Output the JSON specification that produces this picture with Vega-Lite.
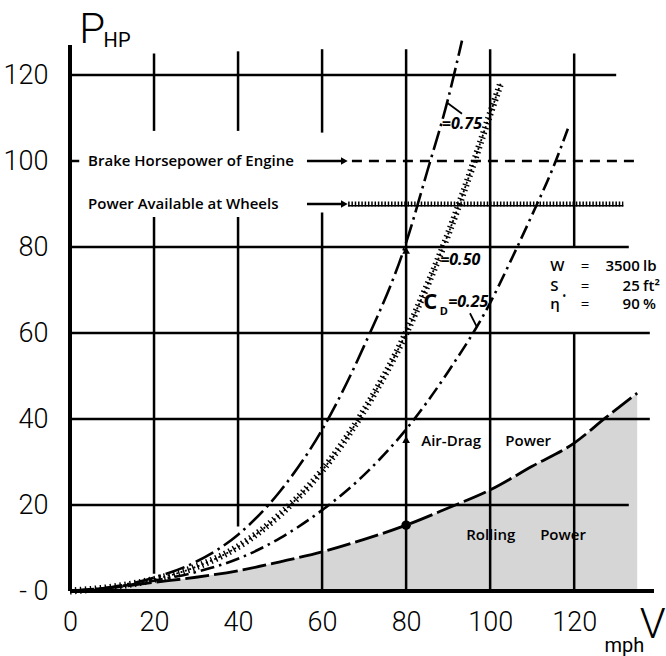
{
  "$schema": "https://vega.github.io/schema/vega-lite/v6.json",
  "autosize": {"type": "none"},
  "padding": {"left": 70, "top": 32, "right": 12, "bottom": 65},
  "width": 584,
  "height": 559,
  "background": "white",
  "config": {"view": {"stroke": null}},
  "datasets": {
    "curves": [
      {"s": "roll", "V": 0, "P": 0}, {"s": "roll", "V": 10, "P": 0.8}, {"s": "roll", "V": 20, "P": 2.0}, {"s": "roll", "V": 30, "P": 3.2},
      {"s": "roll", "V": 40, "P": 4.7}, {"s": "roll", "V": 50, "P": 6.8}, {"s": "roll", "V": 60, "P": 9.1}, {"s": "roll", "V": 70, "P": 12.0},
      {"s": "roll", "V": 80, "P": 15.3}, {"s": "roll", "V": 90, "P": 19.3}, {"s": "roll", "V": 100, "P": 23.5}, {"s": "roll", "V": 110, "P": 29.0},
      {"s": "roll", "V": 120, "P": 34.4}, {"s": "roll", "V": 127.5, "P": 40.3}, {"s": "roll", "V": 135, "P": 46.0},
      {"s": "c25", "V": 0, "P": 0}, {"s": "c25", "V": 10, "P": 0.85}, {"s": "c25", "V": 20, "P": 2.4}, {"s": "c25", "V": 30, "P": 4.4},
      {"s": "c25", "V": 40, "P": 7.5}, {"s": "c25", "V": 50, "P": 12.3}, {"s": "c25", "V": 60, "P": 18.8}, {"s": "c25", "V": 70, "P": 27.0},
      {"s": "c25", "V": 80, "P": 37.6}, {"s": "c25", "V": 90, "P": 51.0}, {"s": "c25", "V": 100, "P": 67.0}, {"s": "c25", "V": 105, "P": 77.0},
      {"s": "c25", "V": 110, "P": 87.5}, {"s": "c25", "V": 115, "P": 98.5}, {"s": "c25", "V": 118.5, "P": 107.5},
      {"s": "c50", "V": 0, "P": 0}, {"s": "c50", "V": 10, "P": 0.9}, {"s": "c50", "V": 20, "P": 2.7}, {"s": "c50", "V": 30, "P": 5.6},
      {"s": "c50", "V": 40, "P": 10.3}, {"s": "c50", "V": 50, "P": 17.8}, {"s": "c50", "V": 60, "P": 28.0}, {"s": "c50", "V": 70, "P": 42.0},
      {"s": "c50", "V": 80, "P": 60.0}, {"s": "c50", "V": 85, "P": 71.0}, {"s": "c50", "V": 90, "P": 83.0}, {"s": "c50", "V": 95, "P": 96.5},
      {"s": "c50", "V": 100, "P": 111.0}, {"s": "c50", "V": 102.5, "P": 118.0},
      {"s": "c75", "V": 0, "P": 0}, {"s": "c75", "V": 10, "P": 0.95}, {"s": "c75", "V": 20, "P": 3.1}, {"s": "c75", "V": 30, "P": 6.8},
      {"s": "c75", "V": 40, "P": 13.1}, {"s": "c75", "V": 50, "P": 23.2}, {"s": "c75", "V": 60, "P": 37.5}, {"s": "c75", "V": 70, "P": 57.0},
      {"s": "c75", "V": 80, "P": 81.0}, {"s": "c75", "V": 85, "P": 97.5}, {"s": "c75", "V": 90, "P": 114.5}, {"s": "c75", "V": 93.3, "P": 128.0}
    ],
    "grid": [
      {"V": 0, "V2": 130, "P": 120, "P2": 120},
      {"V": 0, "V2": 2.2, "P": 100, "P2": 100},
      {"V": 0, "V2": 133, "P": 80, "P2": 80},
      {"V": 0, "V2": 138, "P": 60, "P2": 60},
      {"V": 0, "V2": 138, "P": 40, "P2": 40},
      {"V": 0, "V2": 133, "P": 20, "P2": 20},
      {"V": 20, "V2": 20, "P": 4, "P2": 87},
      {"V": 20, "V2": 20, "P": 107, "P2": 125},
      {"V": 40, "V2": 40, "P": 15, "P2": 87},
      {"V": 40, "V2": 40, "P": 107, "P2": 125.5},
      {"V": 60, "V2": 60, "P": 0, "P2": 88},
      {"V": 60, "V2": 60, "P": 106.6, "P2": 126},
      {"V": 80, "V2": 80, "P": 0, "P2": 126},
      {"V": 100, "V2": 100, "P": 0, "P2": 126},
      {"V": 120, "V2": 120, "P": 0, "P2": 60},
      {"V": 120, "V2": 120, "P": 80, "P2": 125}
    ],
    "axes": [
      {"V": 0, "V2": 0, "P": 0, "P2": 127},
      {"V": 0, "V2": 139, "P": 0, "P2": 0}
    ]
  },
  "encoding": {
    "x": {"field": "V", "type": "quantitative", "scale": {"domain": [0, 139], "nice": false, "zero": false},
      "axis": {"values": [0, 20, 40, 60, 80, 100, 120], "grid": false, "domain": false, "ticks": false, "title": null,
        "labelFont": "Roboto", "labelFontSize": 27, "labelFontWeight": 300, "labelColor": "#000", "labelPadding": 18, "labelFlush": false}},
    "y": {"field": "P", "type": "quantitative", "scale": {"domain": [0, 130], "nice": false, "zero": false},
      "axis": {"values": [0, 20, 40, 60, 80, 100, 120], "grid": false, "domain": false, "ticks": false, "title": null,
        "labelFont": "Roboto", "labelFontSize": 27, "labelFontWeight": 300, "labelColor": "#000", "labelPadding": 22, "labelFlush": false,
        "labelExpr": "datum.value == 0 ? '- 0' : datum.label"}}
  },
  "layer": [
    {"data": {"name": "curves"}, "transform": [{"filter": "datum.s == 'roll'"}],
     "mark": {"type": "area", "fill": "#000", "fillOpacity": 0.16, "interpolate": "monotone"}, "encoding": {}},
    {"data": {"name": "grid"}, "mark": {"type": "rule", "color": "#000", "strokeWidth": 2.5},
     "encoding": {"x2": {"field": "V2"}, "y2": {"field": "P2"}}},
    {"data": {"name": "axes"}, "mark": {"type": "rule", "color": "#000", "strokeWidth": 4},
     "encoding": {"x2": {"field": "V2"}, "y2": {"field": "P2"}}},
    {"data": {"values": [{"V": 67.1, "V2": 134.5, "P": 100, "P2": 100}]},
     "mark": {"type": "rule", "color": "#000", "strokeWidth": 2.5, "strokeDash": [10, 7]},
     "encoding": {"x2": {"field": "V2"}, "y2": {"field": "P2"}}},
    {"data": {"values": [{"V": 66.2, "V2": 131.7, "P": 90, "P2": 90}]},
     "mark": {"type": "rule", "color": "#000", "strokeWidth": 5, "strokeDash": [1.5, 1.8]},
     "encoding": {"x2": {"field": "V2"}, "y2": {"field": "P2"}}},
    {"data": {"values": [{"V": 66.2, "V2": 131.7, "P": 89.6, "P2": 89.6}]},
     "mark": {"type": "rule", "color": "#000", "strokeWidth": 1.5},
     "encoding": {"x2": {"field": "V2"}, "y2": {"field": "P2"}}},
    {"data": {"values": [{"V": 56.4, "V2": 64.5, "P": 100, "P2": 100}, {"V": 56.4, "V2": 64.5, "P": 90, "P2": 90}]},
     "mark": {"type": "rule", "color": "#000", "strokeWidth": 2.5},
     "encoding": {"x2": {"field": "V2"}, "y2": {"field": "P2"}}},
    {"data": {"values": [{"V": 65.3, "P": 100}, {"V": 65.3, "P": 90}]},
     "mark": {"type": "point", "shape": "triangle-right", "filled": true, "color": "#000", "size": 60, "opacity": 1}, "encoding": {}},
    {"data": {"values": [{"V": 80, "P": 35.2}, {"V": 80, "P": 79.2}]},
     "mark": {"type": "point", "shape": "triangle-up", "filled": true, "color": "#000", "size": 60, "opacity": 1}, "encoding": {}},
    {"data": {"values": [{"V": 80, "P": 15.3}]},
     "mark": {"type": "point", "shape": "circle", "filled": true, "color": "#000", "size": 90, "opacity": 1}, "encoding": {}},
    {"data": {"name": "curves"}, "transform": [{"filter": "datum.s == 'roll'"}],
     "mark": {"type": "line", "color": "#000", "strokeWidth": 2.8, "strokeDash": [24, 5], "interpolate": "monotone"}, "encoding": {}},
    {"data": {"name": "curves"}, "transform": [{"filter": "datum.s == 'c25'"}],
     "mark": {"type": "line", "color": "#000", "strokeWidth": 2.6, "strokeDash": [14, 5, 2.5, 5], "interpolate": "monotone"}, "encoding": {}},
    {"data": {"name": "curves"}, "transform": [{"filter": "datum.s == 'c75'"}],
     "mark": {"type": "line", "color": "#000", "strokeWidth": 2.6, "strokeDash": [20, 5, 2.5, 5], "interpolate": "monotone"}, "encoding": {}},
    {"data": {"name": "curves"}, "transform": [{"filter": "datum.s == 'c50'"}],
     "mark": {"type": "line", "color": "#000", "strokeWidth": 7, "strokeDash": [1.4, 3.6], "interpolate": "monotone"}, "encoding": {}},
    {"data": {"name": "curves"}, "transform": [{"filter": "datum.s == 'c50'"}],
     "mark": {"type": "line", "color": "#000", "strokeWidth": 1.8, "strokeDash": [2, 2.5], "interpolate": "monotone"}, "encoding": {}},
    {"data": {"values": [{"V": 89.7, "V2": 93.3, "P": 113.6, "P2": 111}, {"V": 95.2, "V2": 96.8, "P": 64.6, "P2": 61.5}]},
     "mark": {"type": "rule", "color": "#000", "strokeWidth": 1.8},
     "encoding": {"x2": {"field": "V2"}, "y2": {"field": "P2"}}},
    {"data": {"values": [
        {"V": 4.3, "P": 100, "label": "Brake Horsepower of Engine"},
        {"V": 4.3, "P": 90, "label": "Power Available at Wheels"},
        {"V": 83.6, "P": 35, "label": "Air-Drag"},
        {"V": 103.6, "P": 35, "label": "Power"},
        {"V": 94.3, "P": 13, "label": "Rolling"},
        {"V": 111.9, "P": 13, "label": "Power"}
      ]},
     "mark": {"type": "text", "align": "left", "baseline": "middle", "font": "Open Sans", "fontWeight": 600, "fontSize": 15, "color": "#000"},
     "encoding": {"text": {"field": "label"}}},
    {"data": {"values": [
        {"V": 88.5, "P": 108.6, "label": "=0.75"},
        {"V": 88.1, "P": 77, "label": "=0.50"},
        {"V": 90, "P": 67.3, "label": "=0.25"}
      ]},
     "mark": {"type": "text", "align": "left", "baseline": "middle", "font": "Open Sans", "fontWeight": 700, "fontStyle": "italic", "fontSize": 16, "color": "#000"},
     "encoding": {"text": {"field": "label"}}},
    {"data": {"values": [{"V": 84.1, "P": 67.3, "label": "C"}]},
     "mark": {"type": "text", "align": "left", "baseline": "middle", "font": "Open Sans", "fontWeight": 700, "fontSize": 22, "color": "#000"},
     "encoding": {"text": {"field": "label"}}},
    {"data": {"values": [{"V": 88.0, "P": 64.8, "label": "D"}]},
     "mark": {"type": "text", "align": "left", "baseline": "middle", "font": "Open Sans", "fontWeight": 700, "fontSize": 11, "color": "#000"},
     "encoding": {"text": {"field": "label"}}},
    {"data": {"values": [
        {"V": 114.3, "P": 75.5, "label": "W"},
        {"V": 114.3, "P": 71.0, "label": "S"},
        {"V": 114.3, "P": 66.8, "label": "η"}
      ]},
     "mark": {"type": "text", "align": "left", "baseline": "middle", "font": "Open Sans", "fontWeight": 600, "fontSize": 15, "color": "#000"},
     "encoding": {"text": {"field": "label"}}},
    {"data": {"values": [{"V": 117.3, "P": 68.4, "label": "•"}]},
     "mark": {"type": "text", "align": "left", "baseline": "middle", "font": "Open Sans", "fontWeight": 700, "fontSize": 8, "color": "#000"},
     "encoding": {"text": {"field": "label"}}},
    {"data": {"values": [
        {"V": 122.6, "P": 75.5, "label": "="},
        {"V": 122.6, "P": 71.0, "label": "="},
        {"V": 122.6, "P": 66.8, "label": "="}
      ]},
     "mark": {"type": "text", "align": "center", "baseline": "middle", "font": "Open Sans", "fontWeight": 400, "fontSize": 15, "color": "#000"},
     "encoding": {"text": {"field": "label"}}},
    {"data": {"values": [
        {"V": 135.6, "P": 75.5, "label": "3500"},
        {"V": 135.6, "P": 71.0, "label": "25"},
        {"V": 135.6, "P": 66.8, "label": "90"}
      ]},
     "mark": {"type": "text", "align": "right", "baseline": "middle", "font": "Open Sans", "fontWeight": 600, "fontSize": 15, "color": "#000"},
     "encoding": {"text": {"field": "label"}}},
    {"data": {"values": [
        {"V": 136.4, "P": 75.5, "label": "lb"},
        {"V": 136.4, "P": 71.0, "label": "ft²"},
        {"V": 136.4, "P": 66.8, "label": "%"}
      ]},
     "mark": {"type": "text", "align": "left", "baseline": "middle", "font": "Open Sans", "fontWeight": 600, "fontSize": 15, "color": "#000"},
     "encoding": {"text": {"field": "label"}}},
    {"data": {"values": [{"V": 2.2, "P": 127.4, "label": "P"}, {"V": 135.6, "P": -10.9, "label": "V"}]},
     "mark": {"type": "text", "align": "left", "baseline": "alphabetic", "font": "Roboto", "fontWeight": 300, "fontSize": 42, "color": "#000"},
     "encoding": {"text": {"field": "label"}}},
    {"data": {"values": [{"V": 8.0, "P": 126.6, "label": "HP"}, {"V": 127.2, "P": -14.3, "label": "mph"}]},
     "mark": {"type": "text", "align": "left", "baseline": "alphabetic", "font": "Roboto", "fontWeight": 400, "fontSize": 20, "color": "#000"},
     "encoding": {"text": {"field": "label"}}}
  ]
}
